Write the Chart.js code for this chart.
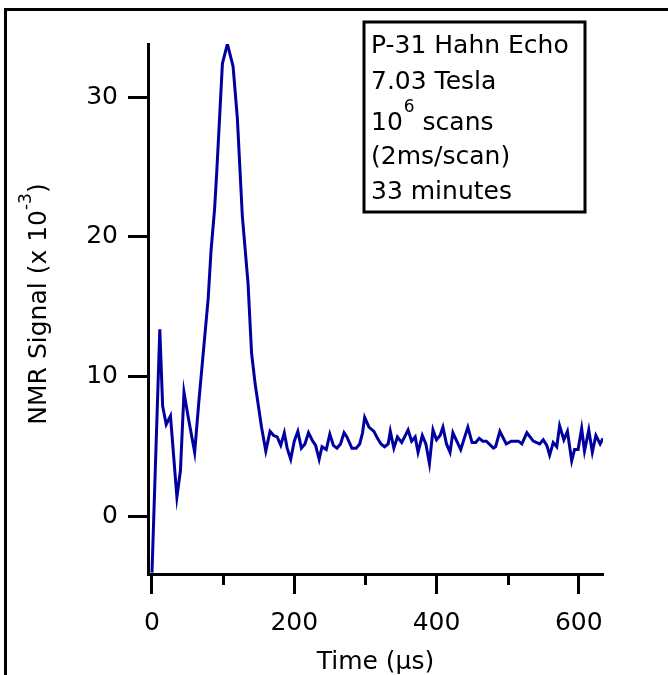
<!DOCTYPE html>
<html>
<head>
<meta charset="utf-8">
<script src="https://cdn.jsdelivr.net/npm/chart.js@4"></script>
<style>
html, body { margin: 0; padding: 0; background: #fff; }
#wrap { width: 668px; height: 675px; position: relative; }
</style>
</head>
<body>
<div id="wrap"><canvas id="myChart" width="668" height="675"></canvas></div>
<script>
// echo trace (time in µs, signal in units of 1e-3)
const timeUs = [0, 11, 15, 20, 26, 35, 40, 45, 51, 60, 66, 79, 83, 88, 91, 99, 106, 114, 120, 127,
    135, 140, 145, 154, 160, 166, 171, 176, 181, 186, 190, 195, 200, 205, 210, 215, 220, 226, 230, 235,
    239, 245, 250, 255, 260, 265, 270, 274, 281, 287, 292, 296, 299, 305, 312, 317, 322, 327, 332, 335,
    340, 345, 351, 356, 360, 365, 370, 374, 380, 385, 390, 395, 400, 405, 409, 414, 419, 423, 434, 444,
    450, 455, 460, 465, 470, 480, 483, 489, 498, 505, 515, 520, 527, 536, 545, 550, 555, 559, 564, 569,
    573, 579, 584, 590, 594, 599, 604, 608, 614, 619, 624, 630, 634]
const signal = [-4.0, 13.4, 7.9, 6.6, 7.2, 1.4, 3.3, 8.9, 7.1, 4.6, 8.3, 15.6, 19.0, 22.0, 24.6, 32.4, 33.8, 32.2, 28.5, 21.5,
    16.7, 11.7, 9.5, 6.4, 4.7, 6.1, 5.8, 5.7, 5.1, 6.0, 4.9, 4.1, 5.4, 6.1, 4.9, 5.2, 6.0, 5.4, 5.1, 4.1,
    5.0, 4.8, 5.9, 5.1, 4.9, 5.2, 6.0, 5.7, 4.9, 4.9, 5.2, 6.0, 7.1, 6.4, 6.1, 5.6, 5.2, 5.0, 5.2, 6.1,
    4.9, 5.7, 5.3, 5.8, 6.2, 5.4, 5.7, 4.6, 5.8, 5.2, 3.8, 6.2, 5.5, 5.8, 6.4, 5.2, 4.6, 6.0, 4.8, 6.4,
    5.3, 5.3, 5.6, 5.4, 5.4, 4.9, 5.0, 6.1, 5.2, 5.4, 5.4, 5.2, 6.0, 5.4, 5.2, 5.5, 5.1, 4.4, 5.3, 5.0,
    6.5, 5.5, 6.1, 4.0, 4.8, 4.8, 6.3, 4.7, 6.2, 4.6, 5.8, 5.2, 5.6]

const xMajorTicks = [0, 200, 400, 600]
const xMinorTicks = [100, 300, 500]
const yTicks = [0, 10, 20, 30]

// note box lines: [text, superscript, text after]
const noteLines = [
    ["P-31 Hahn Echo", "", ""],
    ["7.03 Tesla", "", ""],
    ["10", "6", " scans"],
    ["(2ms/scan)", "", ""],
    ["33 minutes", "", ""]
]
const yTitle = ["NMR Signal (x 10", "-3", ")"]
const xTitle = "Time (µs)"

const FONT = "DejaVu Sans"
const SIZE = 25
const SUP = 17
const lineColor = "#0000a0"

const extras = {
    id: "extras",
    afterDraw(chart) {
        const c = chart.ctx
        const area = chart.chartArea
        const xs = chart.scales.x
        c.save()
        c.fillStyle = "#000"
        // outer frame (left and top edges)
        c.fillRect(4, 8, 3, 667)
        c.fillRect(4, 8, 664, 3)

        // minor ticks on x
        c.strokeStyle = "#000"
        c.lineWidth = 3
        xMinorTicks.forEach(v => {
            const px = Math.round(xs.getPixelForValue(v)) + 0.5
            c.beginPath()
            c.moveTo(px, area.bottom)
            c.lineTo(px, area.bottom + 11)
            c.stroke()
        })

        // y title, rotated, with superscript
        c.font = SIZE + "px " + FONT
        const w1 = c.measureText(yTitle[0]).width
        c.font = SUP + "px " + FONT
        const w2 = c.measureText(yTitle[1]).width
        c.font = SIZE + "px " + FONT
        const w3 = c.measureText(yTitle[2]).width
        const total = w1 + w2 + w3
        c.translate(46, 304 + total / 2)
        c.rotate(-Math.PI / 2)
        c.textBaseline = "alphabetic"
        c.textAlign = "left"
        c.fillText(yTitle[0], 0, 0)
        c.font = SUP + "px " + FONT
        c.fillText(yTitle[1], w1, -15)
        c.font = SIZE + "px " + FONT
        c.fillText(yTitle[2], w1 + w2, 0)
        c.restore()

        // note box
        c.save()
        c.fillStyle = "#fff"
        c.fillRect(364, 22, 221, 190)
        c.strokeStyle = "#000"
        c.lineWidth = 3
        c.strokeRect(364, 22, 221, 190)
        c.fillStyle = "#000"
        c.textBaseline = "alphabetic"
        const baselines = [53, 89, 130, 164, 199]
        noteLines.forEach((ln, i) => {
            let x = 371
            c.font = SIZE + "px " + FONT
            c.fillText(ln[0], x, baselines[i])
            x += c.measureText(ln[0]).width
            if (ln[1]) {
                c.font = SUP + "px " + FONT
                c.fillText(ln[1], x + 1, baselines[i] - 18)
                x += c.measureText(ln[1]).width + 1
            }
            if (ln[2]) {
                c.font = SIZE + "px " + FONT
                c.fillText(ln[2], x, baselines[i])
            }
        })
        c.restore()
    }
}

const ctx = document.getElementById("myChart").getContext("2d")
const myChart = new Chart(ctx, {
    type: "line",
    data: {
        datasets: [{
            data: timeUs.map((t, i) => ({ x: t, y: signal[i] })),
            borderColor: lineColor,
            borderWidth: 3,
            pointRadius: 0,
            tension: 0,
            fill: false
        }]
    },
    options: {
        responsive: false,
        animation: false,
        devicePixelRatio: 1,
        layout: { padding: { top: 44, right: 65, left: 0, bottom: 0 } },
        plugins: { legend: { display: false }, tooltip: { enabled: false } },
        scales: {
            x: {
                type: "linear",
                position: "bottom",
                min: -5.6,
                max: 634,
                afterBuildTicks: s => { s.ticks = xMajorTicks.map(v => ({ value: v })) },
                afterFit: s => { s.height = 101 },
                grid: { drawOnChartArea: false, drawTicks: true, tickLength: 20, tickWidth: 3, color: "#000" },
                border: { display: true, color: "#000", width: 3 },
                ticks: { font: { family: FONT, size: SIZE }, color: "#000", padding: 14, maxRotation: 0, autoSkip: false },
                title: { display: true, text: xTitle, font: { family: FONT, size: SIZE }, color: "#000", padding: { top: 0, bottom: -2 } }
            },
            y: {
                min: -4.1,
                max: 33.8,
                afterBuildTicks: s => { s.ticks = yTicks.map(v => ({ value: v })) },
                afterFit: s => { s.width = 148 },
                grid: { drawOnChartArea: false, drawTicks: true, tickLength: 20, tickWidth: 3, color: "#000" },
                border: { display: true, color: "#000", width: 3 },
                ticks: { font: { family: FONT, size: SIZE }, color: "#000", padding: 10 }
            }
        }
    },
    plugins: [extras]
})
</script>
</body>
</html>
